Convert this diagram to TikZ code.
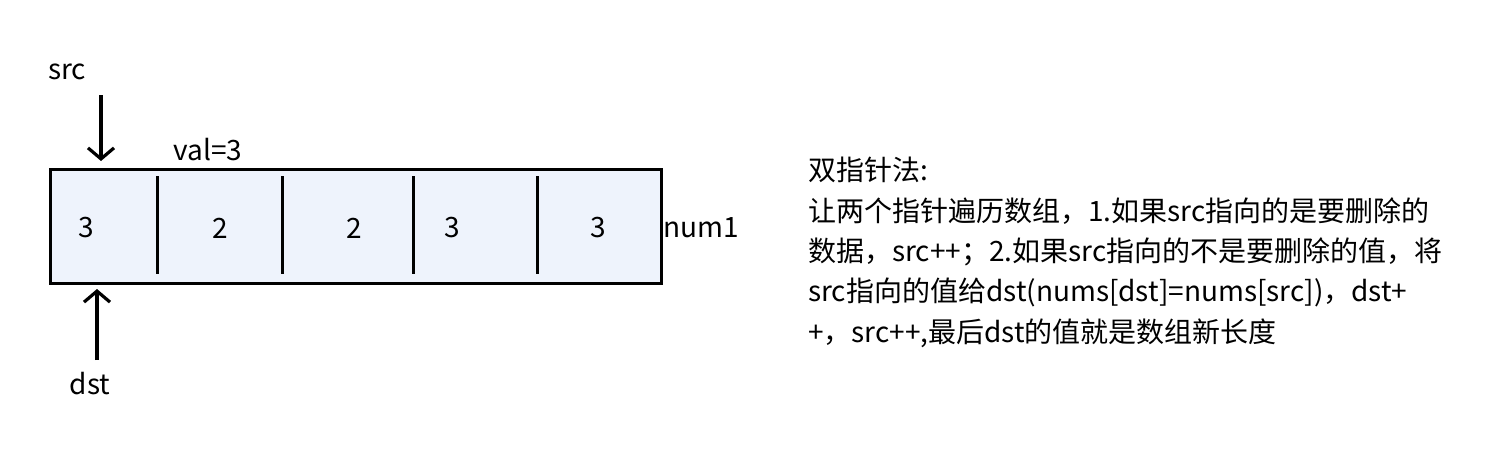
\documentclass[tikz,border=0pt]{standalone}
\usepackage{fontspec}
\setmainfont{Noto Sans CJK SC}
\usetikzlibrary{arrows.meta}
\begin{document}
\begin{tikzpicture}[x=1pt,y=-1pt,
  lbl/.style={font=\fontsize{28}{32}\selectfont, inner sep=0pt},
  cellbox/.style={draw=black, line width=3pt, fill=cellfill},
  divider/.style={line width=3pt},
]
\definecolor{cellfill}{HTML}{EEF3FC}
\tikzset{ptr/.style={draw=black, line width=3.2pt, -{Straight Barb[length=11pt,width=26pt,line width=3.2pt]}}}
\useasboundingbox (0,0) rectangle (1494,452);
\node[cellbox, minimum width=611pt, minimum height=114pt, anchor=north west, inner sep=0pt] (arr) at (49,168) {};
\foreach \x [count=\i] in {157,282,413,537} {
  \coordinate (d\i t) at (\x,176);
  \coordinate (d\i b) at (\x,274);
  \draw[divider] (d\i t) -- (d\i b);
}
\node[lbl] (c1) at (86,228) {3};
\node[lbl] (c2) at (220,228) {2};
\node[lbl] (c3) at (354,228) {2};
\node[lbl] (c4) at (452,228) {3};
\node[lbl] (c5) at (598,228) {3};
\node[lbl, anchor=west] (num) at (663,228) {num1};
\node[lbl] (src) at (67,72) {src};
\node[lbl] (val) at (208,150) {val=3};
\node[lbl] (dst) at (90,384) {dst};
\coordinate (srcs) at (101,95);
\coordinate (srce) at (101,161);
\draw[ptr] (srcs) -- (srce);
\coordinate (dsts) at (97,360);
\coordinate (dste) at (97,289);
\draw[ptr] (dsts) -- (dste);
\node[font=\fontsize{28}{40.3}\selectfont, inner sep=0pt, anchor=base west, align=left] (desc) at (808,342) {双指针法:\\
让两个指针遍历数组，1.如果src指向的是要删除的\\
数据，src++；2.如果src指向的不是要删除的值，将\\
src指向的值给dst(nums[dst]=nums[src])，dst+\\
+，src++,最后dst的值就是数组新长度};
\end{tikzpicture}
\end{document}
